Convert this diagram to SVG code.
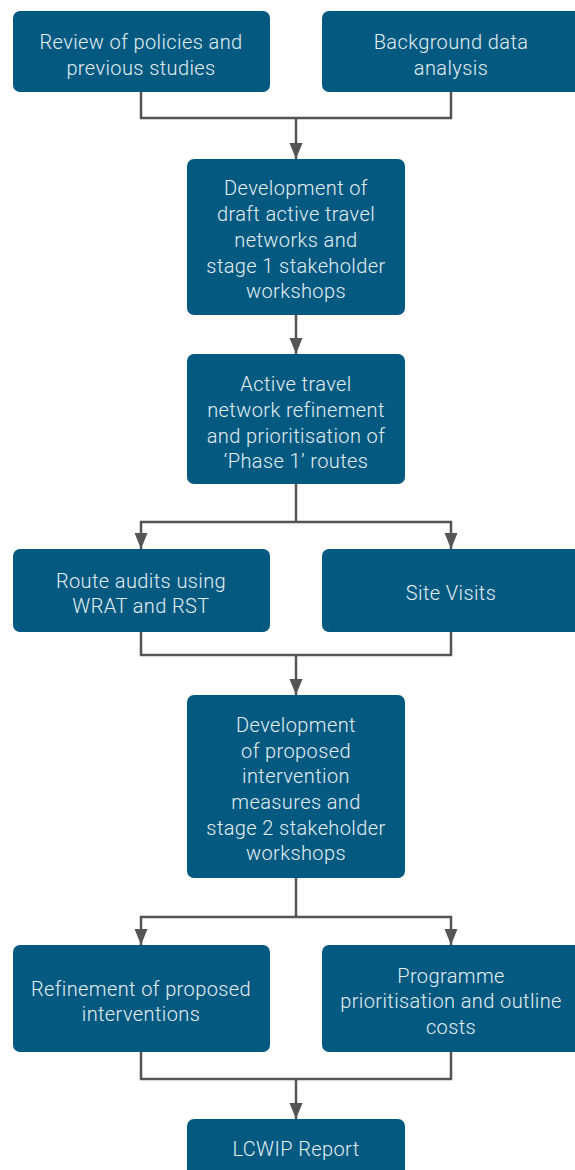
<svg xmlns="http://www.w3.org/2000/svg" width="575" height="1170" viewBox="0 0 575 1170">
  <style>
    .box { fill: #03597f; }
    .lbl { font-family: Roboto, "Liberation Sans", sans-serif; font-weight: 300; font-size: 20px; letter-spacing: 0.4px; fill: #e4eef4; text-anchor: middle; }
    .wire { fill: none; stroke: #555555; stroke-width: 2.5; }
  </style>
  <defs>
    <marker id="arrow" markerUnits="userSpaceOnUse" markerWidth="16" markerHeight="14" refX="16" refY="7" orient="auto">
      <path d="M0,0.5 L16,7 L0,13.5 z" fill="#555555"/>
    </marker>
  </defs>
  <rect width="575" height="1170" fill="#ffffff"/>

  <g id="connectors">
    <path class="wire" d="M141,92 V118 H451 V92"/>
    <path class="wire" d="M296,118 V159" marker-end="url(#arrow)"/>
    <path class="wire" d="M296,315 V354" marker-end="url(#arrow)"/>
    <path class="wire" d="M296,484 V522"/>
    <path class="wire" d="M296,522 H141 V549" marker-end="url(#arrow)"/>
    <path class="wire" d="M296,522 H451 V549" marker-end="url(#arrow)"/>
    <path class="wire" d="M141,632 V655 H451 V632"/>
    <path class="wire" d="M296,655 V695" marker-end="url(#arrow)"/>
    <path class="wire" d="M296,878 V917"/>
    <path class="wire" d="M296,917 H141 V945" marker-end="url(#arrow)"/>
    <path class="wire" d="M296,917 H451 V945" marker-end="url(#arrow)"/>
    <path class="wire" d="M141,1052 V1079 H451 V1052"/>
    <path class="wire" d="M296,1079 V1119" marker-end="url(#arrow)"/>
  </g>

  <g id="review">
    <rect class="box" x="13" y="11" width="257" height="81" rx="7"/>
    <text class="lbl" x="141" y="49">Review of policies and</text>
    <text class="lbl" x="141" y="75">previous studies</text>
  </g>
  <g id="background">
    <rect class="box" x="322" y="11" width="262" height="81" rx="7"/>
    <text class="lbl" x="451" y="49">Background data</text>
    <text class="lbl" x="451" y="75">analysis</text>
  </g>
  <g id="draft-networks">
    <rect class="box" x="187" y="159" width="218" height="156" rx="7"/>
    <text class="lbl" x="296" y="195">Development of</text>
    <text class="lbl" x="296" y="221">draft active travel</text>
    <text class="lbl" x="296" y="247">networks and</text>
    <text class="lbl" x="296" y="273">stage 1 stakeholder</text>
    <text class="lbl" x="296" y="298">workshops</text>
  </g>
  <g id="refinement">
    <rect class="box" x="187" y="354" width="218" height="130" rx="7"/>
    <text class="lbl" x="296" y="391">Active travel</text>
    <text class="lbl" x="296" y="417">network refinement</text>
    <text class="lbl" x="296" y="443">and prioritisation of</text>
    <text class="lbl" x="296" y="468">‘Phase 1’ routes</text>
  </g>
  <g id="route-audits">
    <rect class="box" x="13" y="549" width="257" height="83" rx="7"/>
    <text class="lbl" x="141" y="588">Route audits using</text>
    <text class="lbl" x="141" y="613">WRAT and RST</text>
  </g>
  <g id="site-visits">
    <rect class="box" x="322" y="549" width="262" height="83" rx="7"/>
    <text class="lbl" x="451" y="600">Site Visits</text>
  </g>
  <g id="interventions">
    <rect class="box" x="187" y="695" width="218" height="183" rx="7"/>
    <text class="lbl" x="296" y="732">Development</text>
    <text class="lbl" x="296" y="758">of proposed</text>
    <text class="lbl" x="296" y="783">intervention</text>
    <text class="lbl" x="296" y="809">measures and</text>
    <text class="lbl" x="296" y="835">stage 2 stakeholder</text>
    <text class="lbl" x="296" y="860">workshops</text>
  </g>
  <g id="refine-proposed">
    <rect class="box" x="13" y="945" width="257" height="107" rx="7"/>
    <text class="lbl" x="141" y="996">Refinement of proposed</text>
    <text class="lbl" x="141" y="1021">interventions</text>
  </g>
  <g id="programme">
    <rect class="box" x="322" y="945" width="262" height="107" rx="7"/>
    <text class="lbl" x="451" y="983">Programme</text>
    <text class="lbl" x="451" y="1008">prioritisation and outline</text>
    <text class="lbl" x="451" y="1034">costs</text>
  </g>
  <g id="report">
    <rect class="box" x="187" y="1119" width="218" height="70" rx="7"/>
    <text class="lbl" x="296" y="1156">LCWIP Report</text>
  </g>
</svg>
